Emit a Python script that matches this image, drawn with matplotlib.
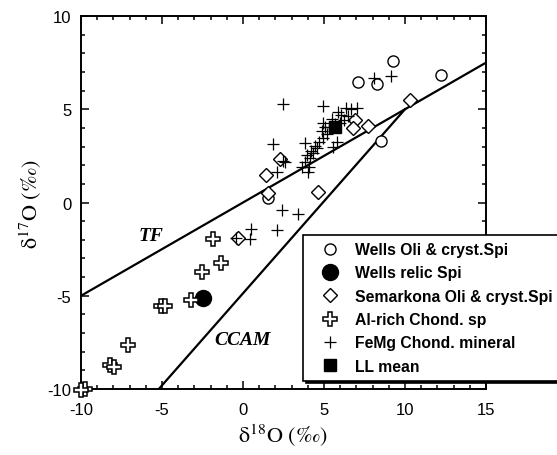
import numpy as np
import matplotlib
matplotlib.use("Agg")
import matplotlib.pyplot as plt
from matplotlib.ticker import MultipleLocator

plt.rcParams['mathtext.fontset'] = 'stix'
plt.rcParams['axes.unicode_minus'] = False
plt.rcParams['font.family'] = ['Liberation Sans', 'DejaVu Sans']

# ---- data (delta18O, delta17O, permil) ----
wells_oli_x = [9.28, 12.22, 8.29, 7.12, 8.50, 1.56]
wells_oli_y = [7.57, 6.85, 6.35, 6.44, 3.28, 0.23]

wells_relic_x = [-2.45]
wells_relic_y = [-5.14]

semarkona_x = [10.31, 7.73, 6.91, 6.80, 1.42, 2.28, 1.56, 4.61, -0.29]
semarkona_y = [5.50, 4.09, 4.42, 3.98, 1.47, 2.33, 0.49, 0.58, -1.92]

alrich_x = [-1.83, -1.38, -2.51, -3.19, -5.08, -4.80, -7.10, -8.23, -7.96, -9.75, -10.0]
alrich_y = [-1.96, -3.24, -3.74, -5.23, -5.53, -5.57, -7.64, -8.71, -8.84, -10.0, -10.04]

femg_x = [8.09, 9.14, 2.49, 1.87, 3.83, 4.92, 2.12, 2.59, 2.39, 3.41, 0.47, 2.08,
          0.43, -0.45, 2.49, 5.85, 6.05, 6.36, 6.67, 7.02, 6.50, 6.26, 5.99, 4.92,
          5.06, 4.86, 5.20, 4.96, 4.71, 4.44, 4.20, 3.93, 4.14, 3.83, 4.09, 3.62,
          4.03, 5.54, 5.78, 5.33, 5.47, 5.68, 4.55, 4.30]
femg_y = [6.66, 6.80, 5.28, 3.14, 3.17, 5.19, 1.65, 2.16, -0.38, -0.62, -1.42, -1.47,
          -1.96, -1.90, 2.20, 4.84, 4.69, 5.05, 5.01, 5.05, 4.65, 4.42, 4.26, 4.26,
          4.03, 3.85, 3.67, 3.44, 3.23, 3.01, 2.78, 2.55, 2.37, 2.16, 1.89, 1.89,
          1.62, 2.96, 3.26, 4.03, 4.48, 4.21, 2.90, 2.65]

ll_mean_x = [5.68]
ll_mean_y = [4.03]

# reference lines: slope, intercept, x range
tf_line = (0.5, 0.0, -10.0, 15.0)
ccam_line = (0.987, -4.87, -5.19, 10.0)

fig = plt.figure(figsize=(5.57, 4.56), dpi=100)
ax = fig.add_axes([0.1454, 0.1447, 0.7271, 0.818])

for m, b, x0, x1 in (tf_line, ccam_line):
    xs = np.array([x0, x1])
    ax.plot(xs, m * xs + b, color='black', lw=1.6, zorder=2)

ax.plot(wells_oli_x, wells_oli_y, 'o', ms=8, mfc='white', mec='black', mew=1.0,
        ls='none', label='Wells Oli & cryst.Spi', zorder=3)
ax.plot(wells_relic_x, wells_relic_y, 'o', ms=11.5, mfc='black', mec='black',
        ls='none', label='Wells relic Spi', zorder=3)
ax.plot(semarkona_x, semarkona_y, 'D', ms=7.5, mfc='white', mec='black', mew=1.0,
        ls='none', label='Semarkona Oli & cryst.Spi', zorder=3)
ax.plot(alrich_x, alrich_y, 'P', ms=9.5, mfc='white', mec='black', mew=1.1,
        ls='none', label='Al-rich Chond. sp', zorder=3, clip_on=False)
ax.plot(femg_x, femg_y, '+', ms=9, color='black', mew=0.9,
        ls='none', label='FeMg Chond. mineral', zorder=4)
ax.plot(ll_mean_x, ll_mean_y, 's', ms=9, color='black',
        ls='none', label='LL mean', zorder=5)

ax.text(-5.7, -1.78, 'TF', family='Liberation Serif', style='italic',
        weight='bold', fontsize=14, ha='center', va='center')
ax.text(0.0, -7.32, 'CCAM', family='Liberation Serif', style='italic',
        weight='bold', fontsize=14, ha='center', va='center')

ax.set_xlim(-10, 15)
ax.set_ylim(-10, 10)
ax.xaxis.set_major_locator(MultipleLocator(5))
ax.yaxis.set_major_locator(MultipleLocator(5))
ax.xaxis.set_minor_locator(MultipleLocator(1))
ax.yaxis.set_minor_locator(MultipleLocator(1))
ax.tick_params(which='both', direction='in', top=True, right=True, width=1.1)
ax.tick_params(which='major', length=6, labelsize=12)
ax.tick_params(axis='x', which='major', pad=9)
ax.tick_params(axis='y', which='major', pad=7)
ax.tick_params(which='minor', length=3)
for s in ax.spines.values():
    s.set_linewidth(1.4)

ax.set_xlabel('δ$^{18}$O (‰)', fontsize=16, family='STIXGeneral', labelpad=4)
ax.set_ylabel('δ$^{17}$O (‰)', fontsize=16, family='STIXGeneral', labelpad=2)

leg = fig.legend(loc='upper left', bbox_to_anchor=(0.544, 0.4825),
                 prop={'family': 'Liberation Sans', 'weight': 'bold', 'size': 11.3},
                 frameon=True, fancybox=False, shadow={'color': 'black', 'alpha': 1},
                 framealpha=1, edgecolor='black', borderpad=0.45, labelspacing=0.53,
                 handlelength=2.55, handletextpad=0.32, borderaxespad=0)
leg.get_frame().set_linewidth(1.2)

fig.savefig('out.png', dpi=100)
